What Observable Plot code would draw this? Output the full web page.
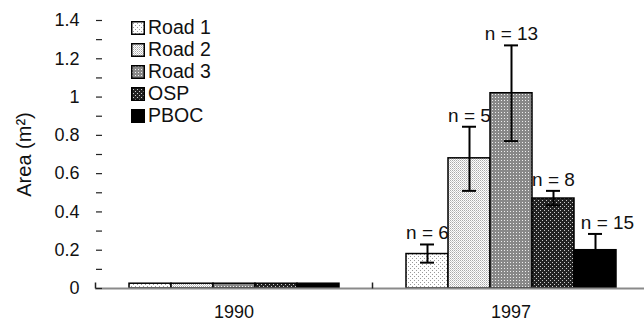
<!DOCTYPE html>
<html><head><meta charset="utf-8">
<script src="https://cdn.jsdelivr.net/npm/d3@7"></script>
<script src="https://cdn.jsdelivr.net/npm/@observablehq/plot@0.6"></script>
<style>
body{margin:0;background:#fff;font-family:"Liberation Sans",Arial,sans-serif;}
#wrap{position:relative;width:644px;height:326px;overflow:hidden;}
#legend{position:absolute;left:131px;top:17px;font-size:19.5px;color:#111;line-height:1;}
.row{display:flex;align-items:center;height:22px;}
.row svg{margin-right:3px;display:block}
</style></head><body><div id="wrap"><div id="legend"></div></div>
<script>
const years = ["1990", "1997"];
const series = ["Road 1", "Road 2", "Road 3", "OSP", "PBOC"];
const area1990 = [0.025, 0.025, 0.025, 0.025, 0.025];
const area1997 = [0.18, 0.68, 1.02, 0.47, 0.2];
const low1997 = [0.135, 0.51, 0.77, 0.435, 0.115];
const high1997 = [0.23, 0.845, 1.27, 0.51, 0.285];
const n1997 = [6, 5, 13, 8, 15];
const yTicks = [0, 0.1, 0.2, 0.3, 0.4, 0.5, 0.6, 0.7, 0.8, 0.9, 1, 1.1, 1.2, 1.3, 1.4];
const yLabels = [0, 0.2, 0.4, 0.6, 0.8, 1, 1.2, 1.4];
const fills = ["url(#p1)", "url(#p2)", "url(#p3)", "url(#p4)", "url(#p5)"];

const rows = [];
series.forEach((s, i) => {
  rows.push({year: years[0], series: s, area: area1990[i], lo: null, hi: null, n: null});
});
series.forEach((s, i) => {
  rows.push({year: years[1], series: s, area: area1997[i], lo: low1997[i], hi: high1997[i], n: n1997[i]});
});

const tickUp = {draw(ctx, size) { const r = Math.sqrt(size / Math.PI); ctx.moveTo(0, 0); ctx.lineTo(0, -r); }};
const has = d => d.hi != null;
const font = "'Liberation Sans', Arial, sans-serif";

const chart = Plot.plot({
  width: 644,
  height: 326,
  marginTop: 20,
  marginBottom: 38,
  marginLeft: 94,
  marginRight: -5,
  style: {fontFamily: font, fontSize: "18px", color: "#111", background: "#fff"},
  facet: {data: rows, x: "year"},
  fx: {domain: years, padding: 0},
  x: {domain: series, axis: null, paddingInner: 0, paddingOuter: 0.73},
  y: {domain: [0, 1.4]},
  color: {type: "ordinal", domain: series, range: fills},
  marks: [
    Plot.barY(rows, {x: "series", y: "area", fill: "series", stroke: "#000", strokeWidth: 1.5}),
    Plot.ruleY([0], {stroke: "#8a8a8a", strokeWidth: 2}),
    Plot.dot([0], {x: null, y: null, frameAnchor: "bottom-left", symbol: tickUp, r: 6, stroke: "#222", strokeWidth: 1.5}),
    Plot.axisY({anchor: "right", frameAnchor: "left", facetAnchor: "left", ticks: yTicks, tickSize: 6, tickFormat: () => "", label: null, stroke: "#222", strokeWidth: 1.2}),
    Plot.axisY({anchor: "left", facetAnchor: "left", ticks: yLabels, tickSize: 0, tickPadding: 16, fontSize: 18, fill: "#111",
      tickFormat: d => String(+d.toFixed(1)), line: true, stroke: "#222", strokeWidth: 1.2,
      label: "Area (m²)", labelAnchor: "center", labelOffset: 79, labelArrow: "none"}),
    Plot.axisFx({anchor: "bottom", tickSize: 0, tickPadding: 17, fontSize: 18, fill: "#111", label: null}),
    Plot.ruleX(rows, {filter: has, x: "series", y1: "lo", y2: "hi", stroke: "#000", strokeWidth: 2}),
    Plot.tickY(rows, {filter: has, x: "series", y: "hi", inset: 14, stroke: "#000", strokeWidth: 2}),
    Plot.tickY(rows, {filter: has, x: "series", y: "lo", inset: 14, stroke: "#000", strokeWidth: 2}),
    Plot.text(rows, {filter: d => has(d) && d.series !== "PBOC", x: "series", y: "hi", text: d => `n = ${d.n}`, lineAnchor: "bottom", dy: -5, fontSize: 19, fill: "#111"}),
    Plot.text(rows, {filter: d => has(d) && d.series === "PBOC", x: "series", y: "hi", text: d => `n = ${d.n}`, lineAnchor: "bottom", dy: -5, dx: 12, fontSize: 19, fill: "#111"})
  ]
});

const svgEl = chart.tagName.toLowerCase() === "svg" ? chart : chart.querySelector("svg");
function addDefs(svgNode) {
  const defs = d3.select(svgNode).insert("defs", ":first-child");
  const p1 = defs.append("pattern").attr("id", "p1").attr("patternUnits", "userSpaceOnUse").attr("width", 4).attr("height", 4);
  p1.append("rect").attr("width", 4).attr("height", 4).attr("fill", "#fff");
  p1.append("rect").attr("x", 0).attr("y", 0).attr("width", 1).attr("height", 1).attr("fill", "#999");
  p1.append("rect").attr("x", 2).attr("y", 2).attr("width", 1).attr("height", 1).attr("fill", "#999");
  const p2 = defs.append("pattern").attr("id", "p2").attr("patternUnits", "userSpaceOnUse").attr("width", 2).attr("height", 2);
  p2.append("rect").attr("width", 2).attr("height", 2).attr("fill", "#fff");
  p2.append("rect").attr("x", 0).attr("y", 0).attr("width", 1).attr("height", 1).attr("fill", "#aaa");
  p2.append("rect").attr("x", 1).attr("y", 1).attr("width", 1).attr("height", 1).attr("fill", "#ccc");
  const p3 = defs.append("pattern").attr("id", "p3").attr("patternUnits", "userSpaceOnUse").attr("width", 3).attr("height", 3);
  p3.append("rect").attr("width", 3).attr("height", 3).attr("fill", "#888");
  p3.append("rect").attr("x", 1).attr("y", 1).attr("width", 1).attr("height", 1).attr("fill", "#eee");
  const p4 = defs.append("pattern").attr("id", "p4").attr("patternUnits", "userSpaceOnUse").attr("width", 4).attr("height", 4);
  p4.append("rect").attr("width", 4).attr("height", 4).attr("fill", "#222");
  p4.append("rect").attr("x", 0).attr("y", 0).attr("width", 1).attr("height", 1).attr("fill", "#ccc");
  p4.append("rect").attr("x", 2).attr("y", 2).attr("width", 1).attr("height", 1).attr("fill", "#ccc");
  const p5 = defs.append("pattern").attr("id", "p5").attr("patternUnits", "userSpaceOnUse").attr("width", 4).attr("height", 4);
  p5.append("rect").attr("width", 4).attr("height", 4).attr("fill", "#000");
}
addDefs(svgEl);
// Axis label size
d3.select(svgEl).selectAll('g[aria-label="y-axis label"]').attr("font-size", 20).selectAll("text").attr("font-size", 20);
document.getElementById("wrap").prepend(chart);

const legend = d3.select("#legend");
series.forEach((s, i) => {
  const row = legend.append("div").attr("class", "row");
  const sw = row.append("svg").attr("width", 14).attr("height", 14);
  sw.append("rect").attr("x", 0.75).attr("y", 0.75).attr("width", 12.5).attr("height", 12.5)
    .attr("fill", fills[i]).attr("stroke", "#000").attr("stroke-width", 1.5);
  row.append("span").text(s);
});
</script>
</body></html>
